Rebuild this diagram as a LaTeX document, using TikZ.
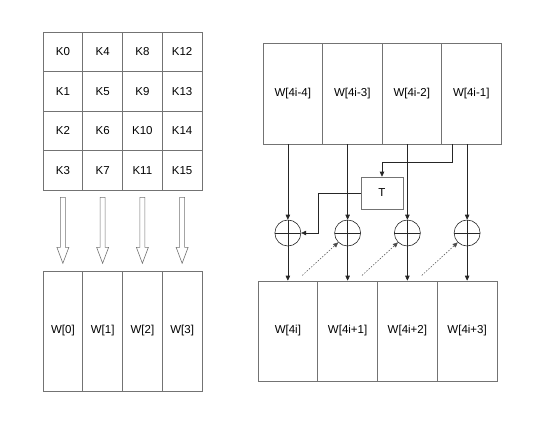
\documentclass[tikz,border=0pt]{standalone}
\usepackage{fontspec}
\setmainfont{Liberation Sans}
\usetikzlibrary{calc,arrows.meta}

\tikzset{
  box/.style={draw=gray!90!black, line width=0.6pt, inner sep=0pt,
    font=\fontsize{11.5}{13}\selectfont},
  kcell/.style={box, minimum width=39.75pt, minimum height=39.5pt},
  wcell/.style={box, minimum width=39.75pt, minimum height=120pt},
  topcell/.style={box, minimum width=59.5pt, minimum height=101pt},
  botcell/.style={box, minimum width=59.75pt, minimum height=100pt},
  xorc/.style={circle, draw=black!85, line width=0.6pt, minimum size=26pt, inner sep=0pt,
    path picture={\draw[black!85, line width=0.5pt]
      (path picture bounding box.north) -- (path picture bounding box.south)
      (path picture bounding box.west) -- (path picture bounding box.east);}},
  sig/.style={draw=black!85, line width=0.6pt, -{Triangle[length=5pt,width=4.5pt]}},
  carry/.style={draw=black!70, line width=0.5pt, dash pattern=on 1.5pt off 1.5pt,
    -{Triangle[length=5pt,width=4.5pt]}},
  hollow/.style={draw=gray!90!black, line width=0.6pt, fill=white}
}

\begin{document}
\begin{tikzpicture}[x=1pt, y=-1pt]
        \useasboundingbox (0,0) rectangle (543,432);

        % 初始密钥 K0..K15 (按列排列)
        \foreach \c in {0,...,3}{
          \foreach \r in {0,...,3}{
            \pgfmathtruncatemacro{\k}{4*\c+\r}
            \node[kcell] (k\k) at ({62.875+39.75*\c},{51.75+39.5*\r}) {K\k};
          }
        }

        % W[0]..W[3]
        \foreach \i in {0,...,3}
          \node[wcell] (w\i) at ({62.875+39.75*\i},331) {W[\i]};

        % 空心箭头 (每列一个)
        \foreach \i in {3,7,11,15}
          \draw[hollow] (k\i.south) ++(-2.5,7) -- ++(0,50) -- ++(-3.5,0) -- ++(6,16)
            -- ++(6,-16) -- ++(-3.5,0) -- ++(0,-50) -- cycle;

        % 上一轮 W[4i-4]..W[4i-1]
        \foreach \i/\t in {0/W[4i-4], 1/W[4i-3], 2/W[4i-2], 3/W[4i-1]}
          \node[topcell] (top\i) at ({292.75+59.5*\i},93.5) {\t};

        % 本轮 W[4i]..W[4i+3]
        \foreach \i/\t in {0/W[4i], 1/W[4i+1], 2/W[4i+2], 3/W[4i+3]}
          \node[botcell] (bot\i) at ({287.875+59.75*\i},331) {\t};

        % 异或节点
        \coordinate (xrow) at (0,233);
        \foreach \i in {0,...,3}
          \node[xorc] (x\i) at (bot\i |- xrow) {};

        % T 函数
        \node[box, minimum width=42pt, minimum height=32pt] (tbox) at (382,193) {T};

        % 竖直数据线与输出
        \foreach \i in {0,...,3}{
          \draw[sig] (x\i |- top0.south) -- (x\i.north);
          \draw[sig] (x\i.south) -- (x\i |- bot0.north);
        }

        % W[4i-1] 经 T 送到第一个异或
        \draw[sig] ($(top3.south west)+(11,0)$) -- ++(0,18) -| (tbox.north);
        \draw[sig] (tbox.west) -- ++(-42,0) |- (x0.east);

        % 前一个输出送到下一个异或 (虚线)
        \foreach \i in {1,2,3}{
          \coordinate (d\i) at ($(x\i.south west)+(-36,33)$);
          \draw[carry] (d\i) -- (x\i.south west);
        }
\end{tikzpicture}
\end{document}
